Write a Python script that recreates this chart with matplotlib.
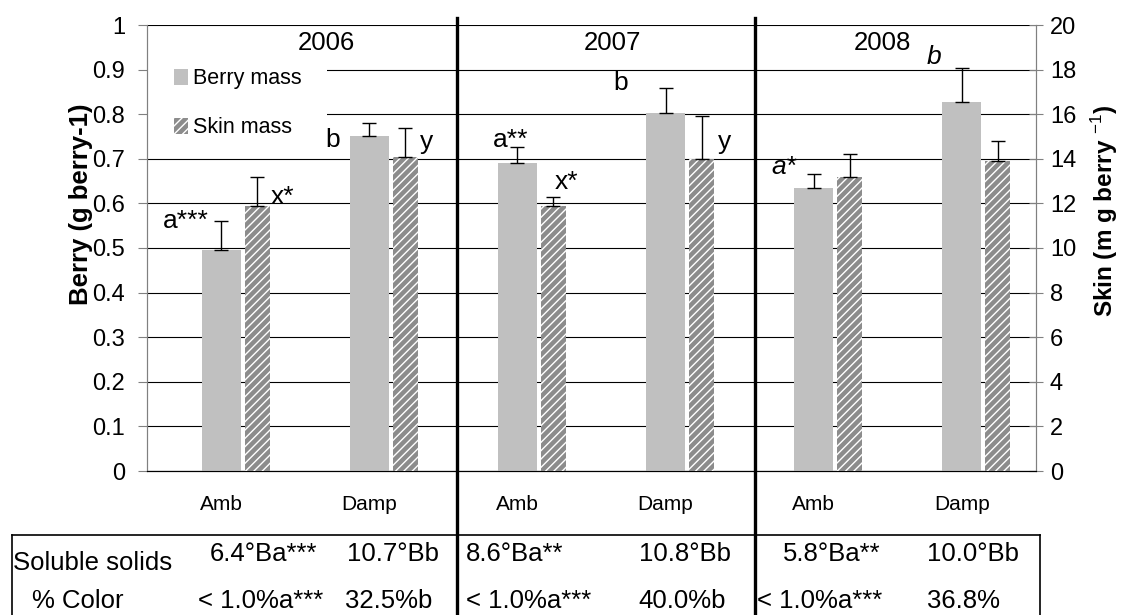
import numpy as np
import matplotlib.pyplot as plt
from matplotlib.lines import Line2D
from matplotlib.patches import Patch, Rectangle

plt.rcParams['font.family'] = ['Liberation Sans', 'DejaVu Sans']
plt.rcParams['hatch.linewidth'] = 1.0
plt.rcParams['hatch.color'] = 'white'
plt.rcParams['mathtext.fontset'] = 'custom'
plt.rcParams['mathtext.rm'] = 'Liberation Sans'

years = ['2006', '2007', '2008']
treatments = ['Amb', 'Damp', 'Amb', 'Damp', 'Amb', 'Damp']
berry_mass = [0.495, 0.751, 0.690, 0.802, 0.634, 0.827]
berry_err = [0.065, 0.029, 0.037, 0.056, 0.032, 0.077]
skin_mass = [11.9, 14.1, 11.9, 14.0, 13.2, 13.9]
skin_err = [1.3, 1.3, 0.4, 1.9, 1.0, 0.9]
berry_letters = ['a***', 'b', 'a**', 'b', 'a*', 'b']
skin_letters = ['x*', 'y', 'x*', 'y', '', '']
soluble_solids = ['6.4°Ba***', '10.7°Bb', '8.6°Ba**', '10.8°Bb', '5.8°Ba**', '10.0°Bb']
color_pct = ['< 1.0%a***', '32.5%b', '< 1.0%a***', '40.0%b', '< 1.0%a***', '36.8%']

# letter offsets from the top of each error bar
berry_dx = [-0.236, -0.25, -0.047, -0.30, -0.20, -0.19]
berry_dy = [0.0, -0.038, 0.015, 0.012, 0.016, 0.024]
berry_style = ['normal'] * 4 + ['italic'] * 2
skin_dx = [0.172, 0.145, 0.088, 0.155, 0, 0]
skin_dy = [-0.9, -0.65, 0.66, -1.15, 0, 0]

W, H = 1124, 615
fig = plt.figure(figsize=(W / 100, H / 100), dpi=100)
L, R, T, B = 147, 1036, 25, 471
ax = fig.add_axes([L / W, 1 - B / H, (R - L) / W, (B - T) / H])
ax2 = ax.twinx()

x = np.arange(len(treatments))
bw_berry, bw_skin, shift = 0.263, 0.169, 0.243

ax.bar(x, berry_mass, width=bw_berry, color='#c0c0c0', zorder=3)
ax.errorbar(x, berry_mass, yerr=[np.zeros(len(x)), berry_err], fmt='none',
            ecolor='black', elinewidth=1, capsize=5, capthick=1, zorder=4)
ax2.bar(x + shift, skin_mass, width=bw_skin, color='#8c8c8c', hatch='////',
        edgecolor='white', linewidth=0, zorder=3)
ax2.errorbar(x + shift, skin_mass, yerr=[np.zeros(len(x)), skin_err], fmt='none',
             ecolor='black', elinewidth=1, capsize=5, capthick=1, zorder=4)

ax.set_xlim(-0.5, 5.5)
ax.set_ylim(0, 1)
ax2.set_ylim(0, 20)
ax.set_yticks(np.arange(0, 1.01, 0.1))
ax.set_yticklabels(['0'] + ['%.1f' % v for v in np.arange(0.1, 0.95, 0.1)] + ['1'])
ax2.set_yticks(np.arange(0, 21, 2))
ax.yaxis.grid(True, color='black', linewidth=0.8, zorder=0)
ax.set_axisbelow(True)

ax.tick_params(axis='y', direction='out', length=6.5, width=0.8, pad=9.3,
               labelsize=17, color='#808080')
ax2.tick_params(axis='y', direction='inout', length=9.5, width=0.8, pad=5.3,
                labelsize=17, color='#808080')
ax.set_xticks(x)
ax.set_xticklabels(treatments, fontsize=15)
ax.tick_params(axis='x', length=0, pad=17.5)

for a in (ax, ax2):
    a.spines['top'].set_visible(False)
    a.spines['left'].set_color('#808080')
    a.spines['right'].set_color('#808080')
    a.spines['bottom'].set_color('black')

# white panel behind the legend
ax.add_patch(Rectangle((-0.5, 0.75), 1.215, 0.2, facecolor='white',
                       edgecolor='none', zorder=1))

handles = [Patch(facecolor='#c0c0c0', label='Berry mass'),
           Patch(facecolor='#8c8c8c', hatch='////', edgecolor='white',
                 linewidth=0, label='Skin mass')]
ax2.legend(handles=handles, loc='upper left', bbox_to_anchor=(0.03, 0.903),
           frameon=False, fontsize=15.5, labelspacing=1.3, handlelength=0.65,
           handleheight=0.75, handletextpad=0.25, borderpad=0, borderaxespad=0)

year_x = [0.708, 2.638, 4.466]
for yx, yr in zip(year_x, years):
    ax.text(yx, 0.96, yr, ha='center', va='center', fontsize=18.5, zorder=5)

for i in range(len(x)):
    ax.text(x[i] + berry_dx[i], berry_mass[i] + berry_err[i] + berry_dy[i],
            berry_letters[i], ha='center', va='center', fontsize=19,
            style=berry_style[i], zorder=5)
    if skin_letters[i]:
        ax2.text(x[i] + shift + skin_dx[i], skin_mass[i] + skin_err[i] + skin_dy[i],
                 skin_letters[i], ha='center', va='center', fontsize=19, zorder=5)

fig.text(81 / W, 1 - 204 / H, 'Berry (g berry-1)', rotation=90, ha='center',
         va='center', fontsize=18.5, fontweight='bold')
fig.text(1105 / W, 1 - 211 / H, 'Skin (m g berry $^{-1}$)', rotation=90, ha='center',
         va='center', fontsize=17.5, fontweight='bold')

# year dividers and the table underneath
def fig_line(x0, y0, x1, y1, lw):
    fig.add_artist(Line2D([x0 / W, x1 / W], [1 - y0 / H, 1 - y1 / H],
                          color='black', linewidth=lw))

fig_line(457, 18, 457, H, 2.4)
fig_line(755, 18, 755, H, 2.4)
fig_line(12, 535, 1040, 535, 1.2)
fig_line(12, 535, 12, H, 1.2)
fig_line(1040, 535, 1040, H, 1.2)

fig.text(13 / W, 1 - 563 / H, 'Soluble solids', ha='left', va='center', fontsize=18.5)
fig.text(32 / W, 1 - 601 / H, '% Color', ha='left', va='center', fontsize=18.5)
ss_x = [210, 347, 466, 639, 783, 927]
cp_x = [198, 345, 466, 638, 757, 927]
for i in range(len(x)):
    fig.text(ss_x[i] / W, 1 - 554 / H, soluble_solids[i], ha='left', va='center',
             fontsize=18.5)
    fig.text(cp_x[i] / W, 1 - 601 / H, color_pct[i], ha='left', va='center',
             fontsize=18.5)

fig.savefig('out.png', dpi=100)
